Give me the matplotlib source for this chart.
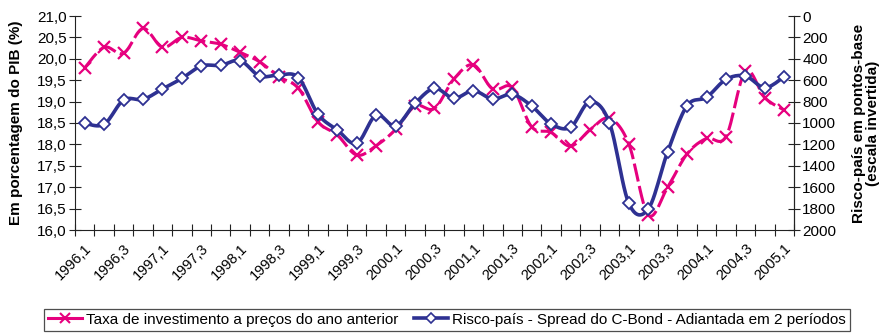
import numpy as np
import matplotlib
matplotlib.use("Agg")
import matplotlib.pyplot as plt
from matplotlib.ticker import FuncFormatter
from matplotlib.lines import Line2D

plt.rcParams['font.family'] = ['Liberation Sans', 'DejaVu Sans']

# quarters 1996,1 .. 2005,1
quarters = ["%d,%d" % (y, q) for y in range(1996, 2006) for q in range(1, 5)][:37]

# Taxa de investimento (% do PIB) - eixo esquerdo
taxa = [19.79, 20.27, 20.13, 20.71, 20.27, 20.50, 20.42, 20.34, 20.15, 19.93,
        19.58, 19.31, 18.53, 18.22, 17.75, 17.97, 18.35, 18.90, 18.84, 19.53,
        19.86, 19.29, 19.33, 18.41, 18.28, 17.96, 18.34, 18.61, 18.01, 16.35,
        17.00, 17.78, 18.14, 18.18, 19.71, 19.09, 18.80]

# Risco-pais (pontos-base, adiantado 2 periodos) - eixo direito invertido
risco = [1003, 1012, 785, 779, 682, 583, 467, 461, 417, 561,
         551, 576, 916, 1065, 1190, 925, 1028, 816, 676, 769,
         698, 776, 732, 841, 1009, 1040, 801, 997, 1751, 1804,
         1268, 838, 760, 592, 561, 670, 567]

pink = '#E6007E'
navy = '#2E3192'


def smooth(x, y, n=12):
    # Excel-like smoothed line (bezier through the points)
    x = np.asarray(x, float)
    y = np.asarray(y, float)
    px = np.concatenate([[x[0]], x, [x[-1]]])
    py = np.concatenate([[y[0]], y, [y[-1]]])
    xs, ys = [], []
    t = np.linspace(0, 1, n, endpoint=False)
    for i in range(1, len(px) - 2):
        p0, p1, p2, p3 = py[i - 1], py[i], py[i + 1], py[i + 2]
        q0, q1, q2, q3 = px[i - 1], px[i], px[i + 1], px[i + 2]
        b1y = p1 + (p2 - p0) / 6
        b2y = p2 - (p3 - p1) / 6
        b1x = q1 + (q2 - q0) / 6
        b2x = q2 - (q3 - q1) / 6
        ys.append((1 - t) ** 3 * p1 + 3 * (1 - t) ** 2 * t * b1y + 3 * (1 - t) * t ** 2 * b2y + t ** 3 * p2)
        xs.append((1 - t) ** 3 * q1 + 3 * (1 - t) ** 2 * t * b1x + 3 * (1 - t) * t ** 2 * b2x + t ** 3 * q2)
    xs.append([x[-1]])
    ys.append([y[-1]])
    return np.concatenate(xs), np.concatenate(ys)


fig = plt.figure(figsize=(8.81, 3.33), dpi=100)
ax = fig.add_axes([75 / 881, 1 - 230 / 333, 719 / 881, 214 / 333])
ax2 = ax.twinx()

x = np.arange(len(quarters))

sx, sy = smooth(x, taxa)
ax.plot(sx, sy, color=pink, lw=2.2, dashes=(6, 1.5), zorder=3)
ax.plot(x, taxa, ls='none', marker='x', ms=8, mew=1.6, color=pink, zorder=4)

sx2, sy2 = smooth(x, risco)
ax2.plot(sx2, sy2, color=navy, lw=2.6, zorder=3)
ax2.plot(x, risco, ls='none', marker='D', ms=6, mew=1.3, mfc='white', mec=navy, zorder=4)

ax.set_xlim(-0.5, len(quarters) - 0.5)
ax.set_ylim(16, 21)
ax.set_yticks(np.arange(16, 21.01, 0.5))
ax.yaxis.set_major_formatter(FuncFormatter(lambda v, p: ("%.1f" % v).replace('.', ',')))
ax2.set_ylim(2000, 0)
ax2.set_yticks(np.arange(0, 2001, 200))

ax.set_xticks(np.arange(-0.5, len(quarters), 1))
ax.set_xticklabels([])
ax.set_xticks(x[::2], minor=True)
ax.set_xticklabels(quarters[::2], minor=True, rotation=45, ha='right',
                   rotation_mode='anchor', fontsize=10.5)
ax.tick_params(axis='x', which='minor', length=0, pad=8)
ax.tick_params(axis='x', which='major', direction='inout', length=8, color='#222222')

ax.tick_params(axis='y', direction='inout', length=8, labelsize=11, color='#222222', pad=2)
ax2.tick_params(axis='y', direction='inout', length=8, labelsize=11, color='#222222', pad=2)

for a in (ax, ax2):
    a.spines['top'].set_visible(False)
    for s in ('left', 'right', 'bottom'):
        a.spines[s].set_color('#222222')
ax2.spines['left'].set_visible(False)
ax2.spines['bottom'].set_visible(False)

ax.set_ylabel('Em porcentagem do PIB (%)', fontsize=11, fontweight='bold')
ax.yaxis.set_label_coords(-0.072, 0.5)
ax2.set_ylabel('Risco-país em pontos-base\n(escala invertida)', fontsize=11,
               fontweight='bold', linespacing=1.05)
ax2.yaxis.set_label_coords(1.08, 0.5)

h1 = Line2D([], [], color=pink, lw=2.2, marker='x', ms=7, mew=1.5)
h2 = Line2D([], [], color=navy, lw=2.6, marker='D', ms=5, mew=1.2, mfc='white', mec=navy)
leg = fig.legend([h1, h2], ['Taxa de investimento a preços do ano anterior',
                            'Risco-país - Spread do C-Bond - Adiantada em 2 períodos'],
                 loc='upper center', bbox_to_anchor=(447 / 881, 1 - 309 / 333), ncol=2,
                 fontsize=11, frameon=True, fancybox=False, handlelength=2.2,
                 handletextpad=0.3, columnspacing=1.0, borderpad=0.25, borderaxespad=0)
leg.get_frame().set_edgecolor('#222222')
leg.get_frame().set_linewidth(0.9)

fig.savefig('out.png', dpi=100)
